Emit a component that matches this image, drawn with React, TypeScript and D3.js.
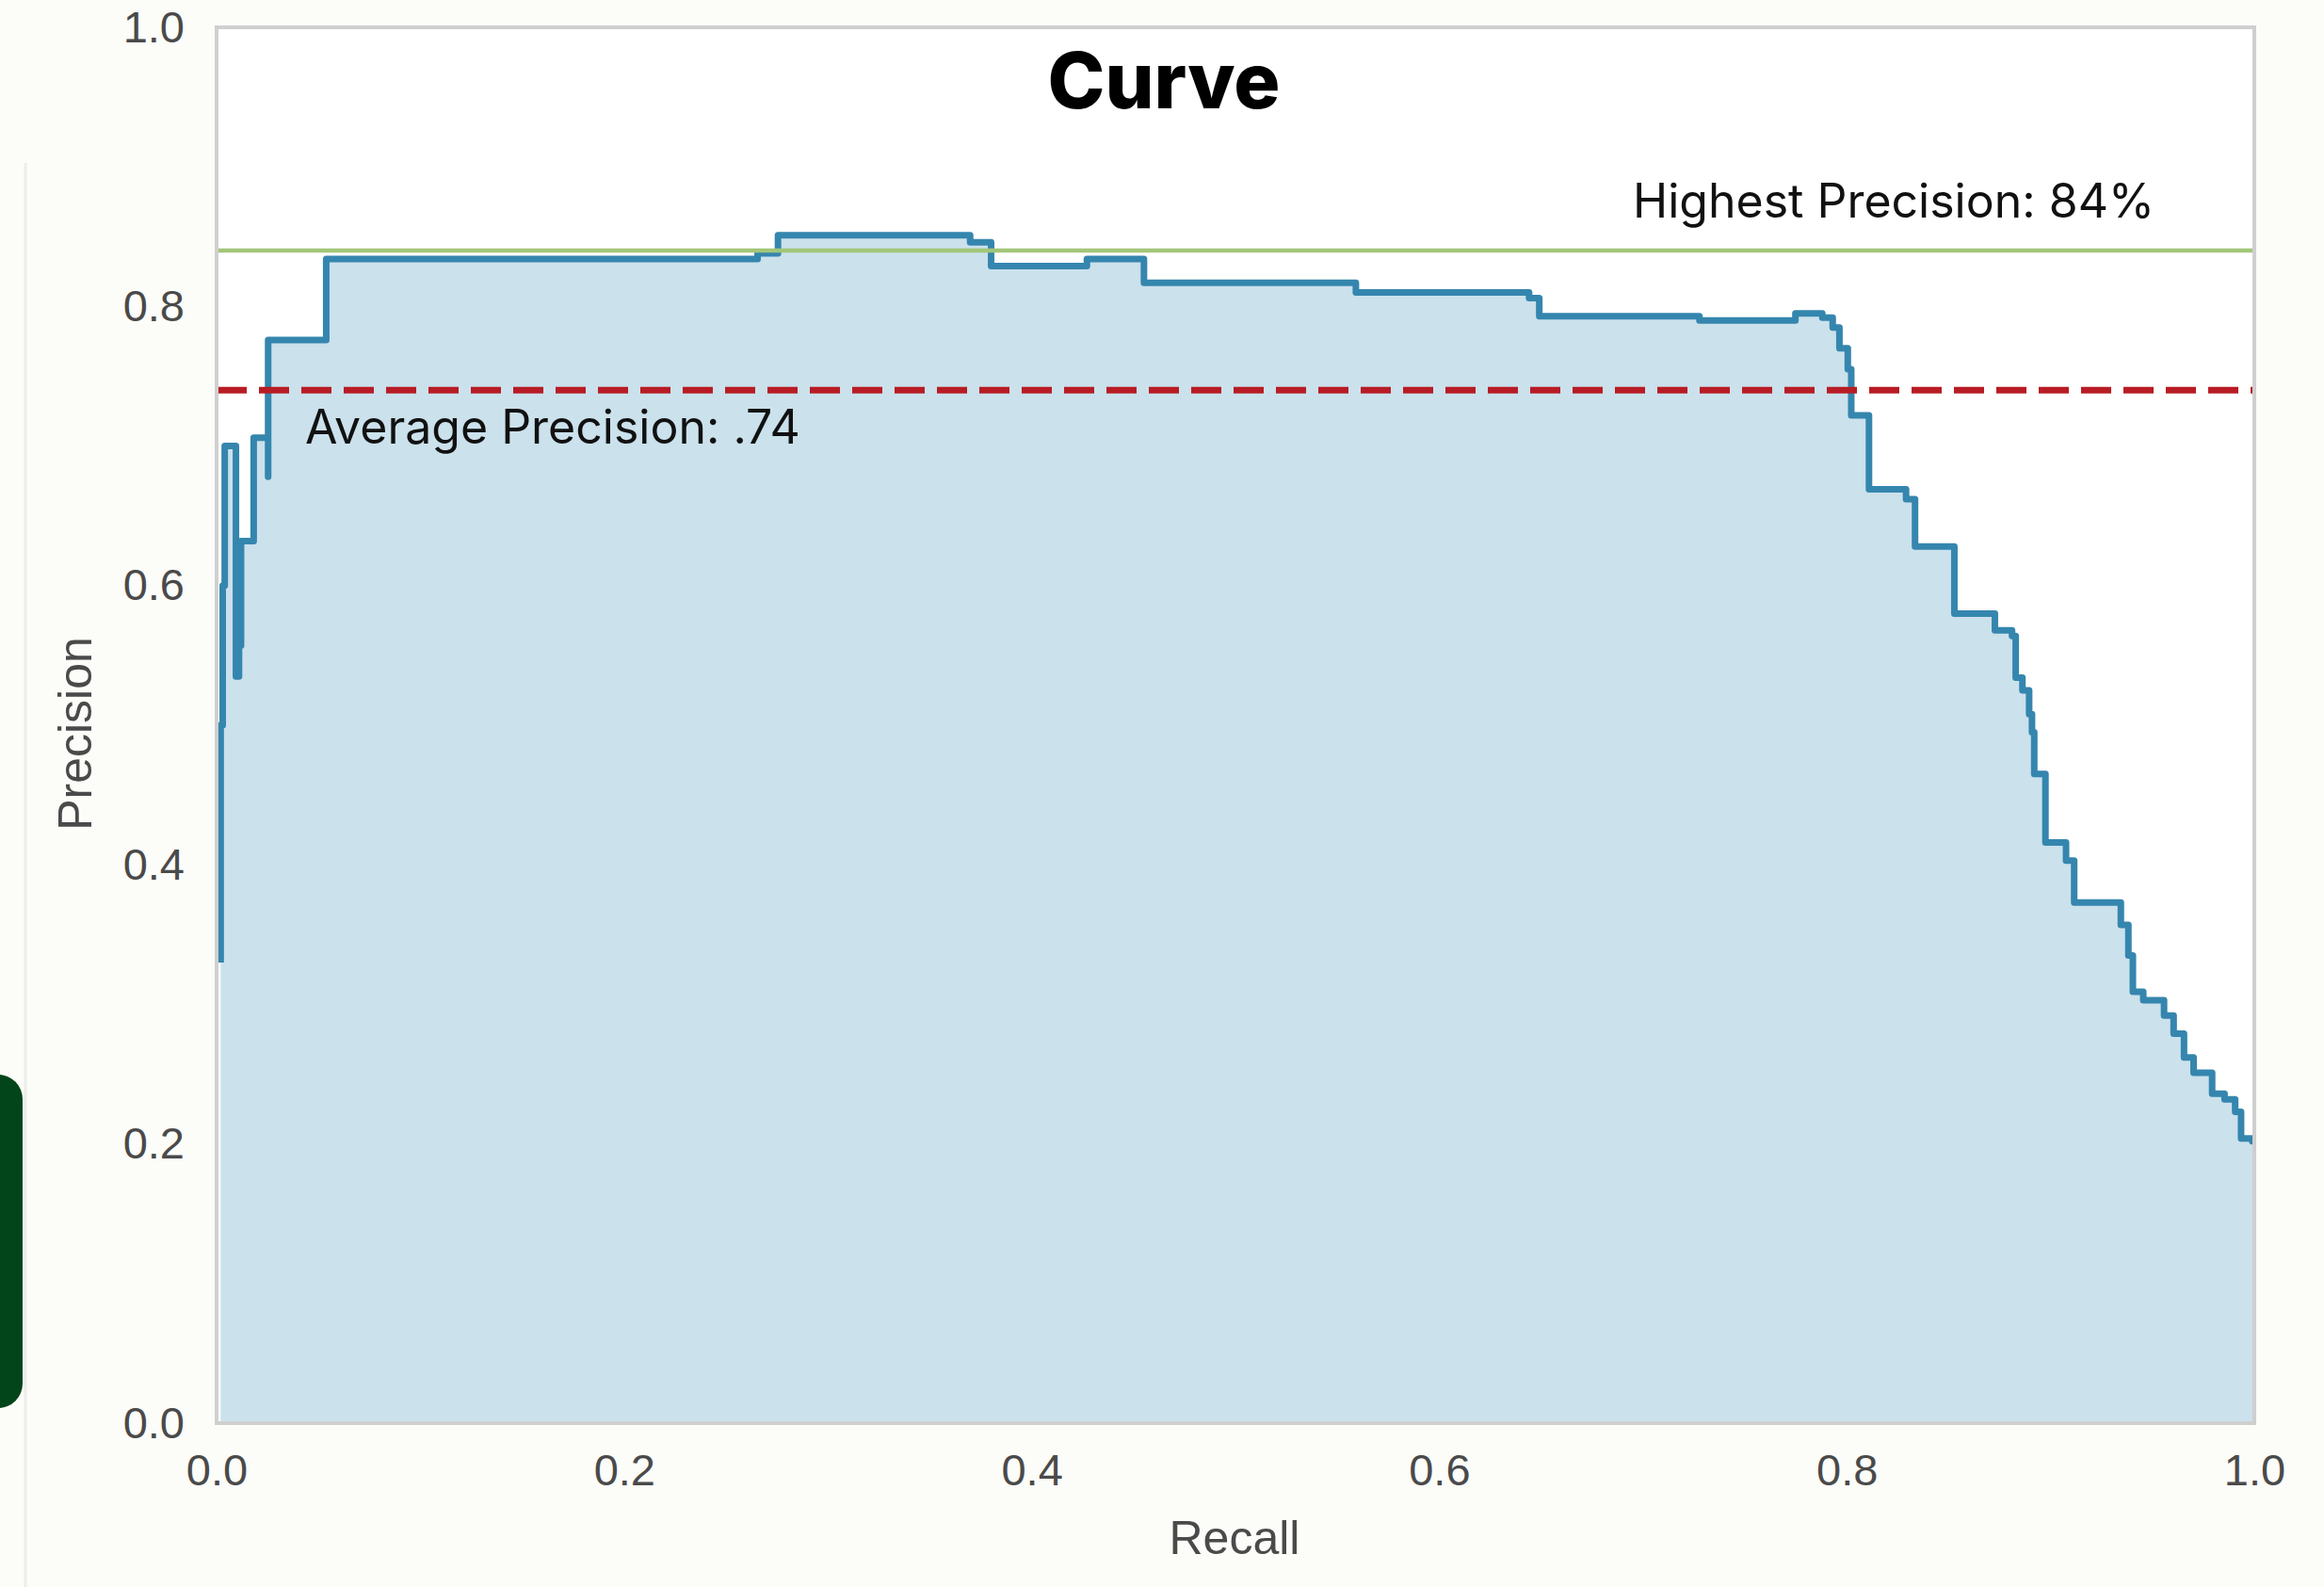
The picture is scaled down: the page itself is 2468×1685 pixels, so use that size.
import React, { useEffect, useRef } from "react";
import * as d3 from "d3";

// precision / recall curve (step-post points)
const recall = [
  0.002, 0.002, 0.003, 0.004, 0.0095, 0.011, 0.012, 0.0182, 0.0253, 0.0253,
  0.0538, 0.2655, 0.2755, 0.3698, 0.3801, 0.4271, 0.4551, 0.5591, 0.6441,
  0.6491, 0.7277, 0.7748, 0.788, 0.7931, 0.7964, 0.8005, 0.8022, 0.8109,
  0.8291, 0.8335, 0.8528, 0.8727, 0.8811, 0.8829, 0.8862, 0.8895, 0.8909,
  0.892, 0.8975, 0.9076, 0.9116, 0.9345, 0.9382, 0.9404, 0.9455, 0.9557,
  0.9604, 0.9655, 0.9702, 0.9793, 0.9854, 0.9906, 0.9935, 0.999, 1.0,
];
const precision = [
  0.33, 0.5, 0.6, 0.7, 0.535, 0.557, 0.632, 0.706, 0.678, 0.776, 0.834, 0.838,
  0.851, 0.846, 0.829, 0.834, 0.817, 0.81, 0.806, 0.793, 0.79, 0.795, 0.792,
  0.785, 0.77, 0.755, 0.722, 0.669, 0.662, 0.628, 0.58, 0.568, 0.564, 0.534,
  0.525, 0.508, 0.495, 0.465, 0.416, 0.403, 0.373, 0.357, 0.335, 0.309, 0.303,
  0.292, 0.279, 0.262, 0.251, 0.236, 0.232, 0.223, 0.204, 0.202, 0.202,
];

const xTicks = [0, 0.2, 0.4, 0.6, 0.8, 1.0];
const yTicks = [0, 0.2, 0.4, 0.6, 0.8, 1.0];

const highestPrecision = 0.84;
const averagePrecision = 0.74;

const W = 2468;
const H = 1685;

const App: React.FC = () => {
  const svgRef = useRef<SVGSVGElement | null>(null);

  useEffect(() => {
    const svg = d3.select(svgRef.current);
    svg.selectAll("*").remove();

    const left = 230;
    const right = 2394;
    const top = 29;
    const bottom = 1511;

    const x = d3.scaleLinear().domain([0, 1]).range([left, right]);
    const y = d3.scaleLinear().domain([0, 1]).range([bottom, top]);

    const points = recall.map((r, i) => [r, precision[i]] as [number, number]);

    // page background
    svg.append("rect").attr("width", W).attr("height", H).attr("fill", "#fcfcf8");

    // left decorations
    svg
      .append("line")
      .attr("x1", 27)
      .attr("x2", 27)
      .attr("y1", 173)
      .attr("y2", H)
      .attr("stroke", "#ececea")
      .attr("stroke-width", 3);
    svg
      .append("rect")
      .attr("x", -40)
      .attr("y", 1141)
      .attr("width", 64)
      .attr("height", 354)
      .attr("rx", 26)
      .attr("fill", "#03451a");

    // plot area
    svg
      .append("rect")
      .attr("x", left)
      .attr("y", top)
      .attr("width", right - left)
      .attr("height", bottom - top)
      .attr("fill", "#ffffff");

    const area = d3
      .area<[number, number]>()
      .x((d) => x(d[0]))
      .y0(y(0))
      .y1((d) => y(d[1]))
      .curve(d3.curveStepAfter);

    svg
      .append("path")
      .datum(points)
      .attr("d", area)
      .attr("fill", "#cbe1ec");

    svg
      .append("path")
      .datum(points)
      .attr(
        "d",
        d3
          .line<[number, number]>()
          .x((d) => x(d[0]))
          .y((d) => y(d[1]))
          .curve(d3.curveStepAfter)
      )
      .attr("fill", "none")
      .attr("stroke", "#3586ae")
      .attr("stroke-width", 7)
      .attr("stroke-linejoin", "round");

    // reference lines
    svg
      .append("line")
      .attr("x1", left)
      .attr("x2", right)
      .attr("y1", y(highestPrecision))
      .attr("y2", y(highestPrecision))
      .attr("stroke", "#a2c679")
      .attr("stroke-width", 4.5);

    svg
      .append("line")
      .attr("x1", left)
      .attr("x2", right)
      .attr("y1", y(averagePrecision))
      .attr("y2", y(averagePrecision))
      .attr("stroke", "#b81c24")
      .attr("stroke-width", 7)
      .attr("stroke-dasharray", "32 13");

    // frame
    svg
      .append("rect")
      .attr("x", left)
      .attr("y", top)
      .attr("width", right - left)
      .attr("height", bottom - top)
      .attr("fill", "none")
      .attr("stroke", "#cfcfcf")
      .attr("stroke-width", 4);

    // axes
    const xAxis = svg
      .append("g")
      .attr("transform", `translate(0, ${bottom})`)
      .call(
        d3
          .axisBottom(x)
          .tickValues(xTicks)
          .tickSize(0)
          .tickPadding(33)
          .tickFormat(d3.format(".1f"))
      );
    const yAxis = svg
      .append("g")
      .attr("transform", `translate(${left}, 0)`)
      .call(
        d3
          .axisLeft(y)
          .tickValues(yTicks)
          .tickSize(0)
          .tickPadding(34)
          .tickFormat(d3.format(".1f"))
      );
    [xAxis, yAxis].forEach((g) => {
      g.select(".domain").remove();
      g.selectAll("text")
        .attr("font-family", "Liberation Sans, Arial, sans-serif")
        .attr("font-size", 47)
        .attr("fill", "#4a4a4a");
    });

    svg
      .append("text")
      .attr("x", 1311)
      .attr("y", 1650)
      .attr("text-anchor", "middle")
      .attr("font-family", "Liberation Sans, Arial, sans-serif")
      .attr("font-size", 50)
      .attr("fill", "#4a4a4a")
      .text("Recall");

    svg
      .append("text")
      .attr("transform", `translate(97, 779) rotate(-90)`)
      .attr("text-anchor", "middle")
      .attr("font-family", "Liberation Sans, Arial, sans-serif")
      .attr("font-size", 50)
      .attr("fill", "#4a4a4a")
      .text("Precision");

    // title and annotations
    svg
      .append("text")
      .attr("x", 1236)
      .attr("y", 115)
      .attr("text-anchor", "middle")
      .attr("font-family", "Inter, sans-serif")
      .attr("font-weight", 800)
      .attr("font-size", 82)
      .attr("fill", "#000")
      .text("Curve");

    svg
      .append("text")
      .attr("x", 1734)
      .attr("y", 231)
      .attr("font-family", "Inter, sans-serif")
      .attr("font-size", 50)
      .attr("fill", "#111")
      .text("Highest Precision: 84%");

    svg
      .append("text")
      .attr("x", 324)
      .attr("y", 471)
      .attr("font-family", "Inter, sans-serif")
      .attr("font-size", 50)
      .attr("fill", "#111")
      .text("Average Precision: .74");
  }, []);

  return (
    <svg
      ref={svgRef}
      width={W}
      height={H}
      style={{ position: "absolute", left: 0, top: 0, display: "block" }}
    ></svg>
  );
};

export default App;
